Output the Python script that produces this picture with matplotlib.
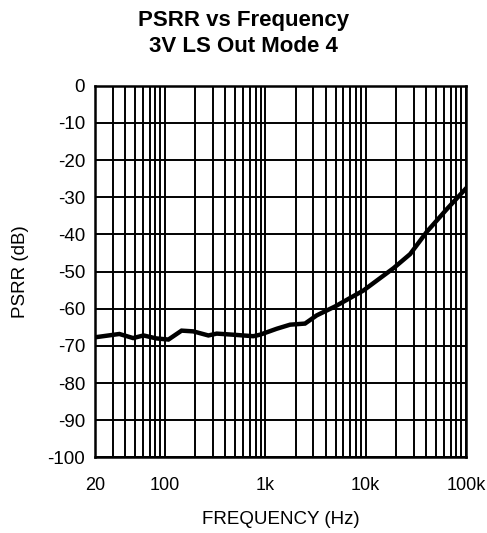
import numpy as np
import matplotlib
matplotlib.use("Agg")
import matplotlib.pyplot as plt
from matplotlib.ticker import FixedLocator, NullFormatter

plt.rcParams['font.family'] = ['Liberation Sans', 'DejaVu Sans']
plt.rcParams['axes.unicode_minus'] = False

# PSRR curve
freq = [20, 35, 48, 61, 82, 108, 146, 191, 270, 327, 479, 757, 883,
        1295, 1760, 2483, 3243, 4940, 9480, 18900, 27700, 40600, 64300, 100000]
psrr = [-67.7, -66.8, -67.9, -67.2, -68.0, -68.3, -65.9, -66.1, -67.2, -66.7,
        -67.0, -67.4, -67.0, -65.4, -64.3, -64.0, -61.8, -59.4, -55.1, -49.1,
        -45.3, -39.3, -33.2, -27.6]

xtick_vals = [20, 100, 1000, 10000, 100000]
xtick_labels = ['20', '100', '1k', '10k', '100k']
ytick_vals = list(range(-100, 1, 10))

fig = plt.figure(figsize=(4.87, 5.33), dpi=100)
ax = fig.add_axes([0.195, 0.142, 0.762, 0.697])

ax.plot(freq, psrr, color='black', linewidth=3.2, solid_joinstyle='miter', zorder=3)

ax.set_xscale('log')
ax.set_xlim(20, 100000)
ax.set_ylim(-100, 0)

grid_x = [m * 10 ** d for d in range(1, 5) for m in range(1, 10)] + [100000]
grid_x = [g for g in grid_x if 20 <= g <= 100000]
for g in grid_x:
    ax.axvline(g, color='black', linewidth=1.4, zorder=1)
for v in ytick_vals:
    ax.axhline(v, color='black', linewidth=1.4, zorder=1)

ax.xaxis.set_major_locator(FixedLocator(xtick_vals))
ax.set_xticklabels(xtick_labels)
ax.xaxis.set_minor_locator(FixedLocator([]))
ax.xaxis.set_minor_formatter(NullFormatter())
ax.set_yticks(ytick_vals)
ax.tick_params(axis='x', length=0, labelsize=13, pad=14.5)
ax.tick_params(axis='y', length=0, labelsize=13.5, pad=7)

for s in ax.spines.values():
    s.set_linewidth(1.8)

ax.set_xlabel('FREQUENCY (Hz)', fontsize=13.5, labelpad=12)
ax.set_ylabel('PSRR (dB)', fontsize=13.5, labelpad=13)
fig.text(0.5, 0.962, 'PSRR vs Frequency', ha='center', va='center',
         fontsize=16, fontweight='bold')
fig.text(0.5, 0.912, '3V LS Out Mode 4', ha='center', va='center',
         fontsize=16, fontweight='bold')

fig.savefig('out.png', dpi=100)
